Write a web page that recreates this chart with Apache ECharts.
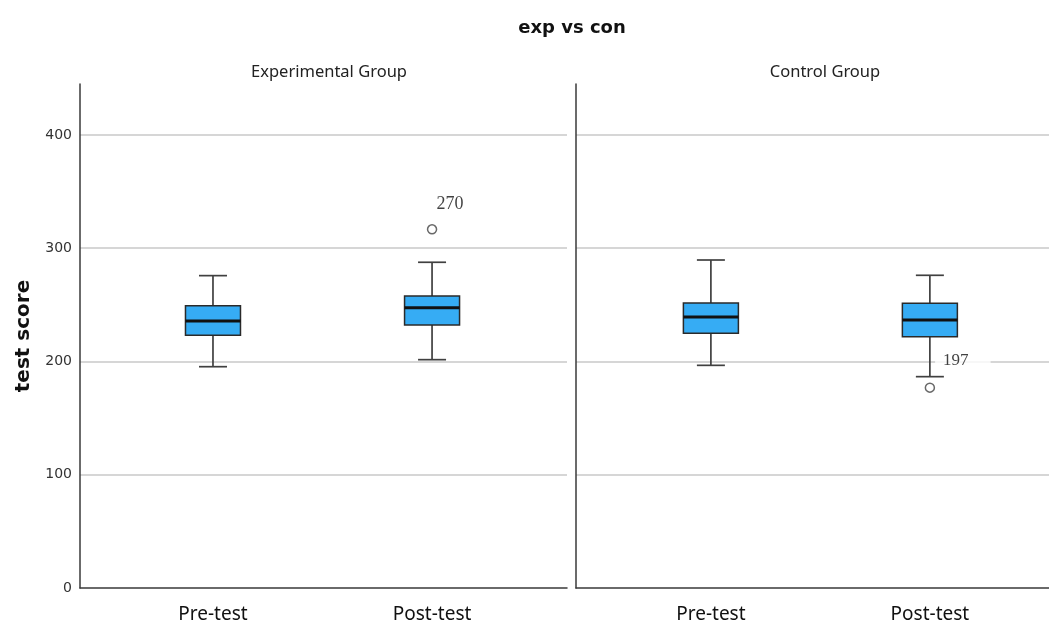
<!DOCTYPE html>
<html>
<head>
<meta charset="utf-8">
<title>exp vs con</title>
<script src="https://cdn.jsdelivr.net/npm/echarts@6/dist/echarts.min.js"></script>
<style>
  html, body { margin: 0; padding: 0; background: #ffffff; }
  #chart { width: 1049px; height: 625px; }
</style>
</head>
<body>
<div id="chart"></div>
<script>
// Test phases shown on each panel's x axis
const categories = ['Pre-test', 'Post-test'];
const panelTitles = ['Experimental Group', 'Control Group'];

// Five-number summaries per phase: [min, Q1, median, Q3, max]
const expStats = [
  [195.4, 223.1, 235.8, 249.3, 275.8],
  [201.6, 232.2, 247.5, 257.8, 287.6]
];
const conStats = [
  [196.6, 224.9, 239.3, 251.7, 289.6],
  [186.6, 221.9, 236.6, 251.4, 276.1]
];

// Outliers: phase index, score, case id
const expOutlierPhase = [1];
const expOutlierScore = [316.7];
const expOutlierCase = ['270'];
const conOutlierPhase = [1];
const conOutlierScore = [176.9];
const conOutlierCase = ['197'];

// Y axis ticks
const yTicks = [0, 100, 200, 300, 400];

const BOX_FILL = '#36acf4';
const BOX_W = 55;
const CAP_W = 28;
const AXIS_COLOR = '#3a3a3a';
const GRID_COLOR = '#c9c9c9';

function boxRows(stats) {
  return stats.map((s, i) => [i].concat(s));
}

function outlierItems(phase, score, ids) {
  return phase.map((p, i) => ({ value: [p, score[i]], name: ids[i] }));
}

function renderBox(params, api) {
  const x = api.value(0);
  const lo = api.coord([x, api.value(1)]);
  const q1 = api.coord([x, api.value(2)]);
  const md = api.coord([x, api.value(3)]);
  const q3 = api.coord([x, api.value(4)]);
  const hi = api.coord([x, api.value(5)]);
  const cx = lo[0];
  const hw = BOX_W / 2, cw = CAP_W / 2;
  const whisker = { stroke: '#404040', lineWidth: 1.7 };
  return {
    type: 'group',
    children: [
      { type: 'line', shape: { x1: cx, y1: hi[1], x2: cx, y2: q3[1] }, style: whisker },
      { type: 'line', shape: { x1: cx, y1: q1[1], x2: cx, y2: lo[1] }, style: whisker },
      { type: 'line', shape: { x1: cx - cw, y1: hi[1], x2: cx + cw, y2: hi[1] }, style: whisker },
      { type: 'line', shape: { x1: cx - cw, y1: lo[1], x2: cx + cw, y2: lo[1] }, style: whisker },
      {
        type: 'rect',
        shape: { x: cx - hw, y: q3[1], width: BOX_W, height: q1[1] - q3[1] },
        style: { fill: BOX_FILL, stroke: '#2a2a2a', lineWidth: 1.5 }
      },
      {
        type: 'line',
        shape: { x1: cx - hw, y1: md[1], x2: cx + hw, y2: md[1] },
        style: { stroke: '#111111', lineWidth: 3 }
      }
    ]
  };
}

function xAxisFor(gridIndex, min, max) {
  return {
    type: 'value',
    gridIndex: gridIndex,
    min: min,
    max: max,
    splitLine: { show: false },
    axisTick: { show: false },
    axisLine: { show: true, onZero: false, lineStyle: { color: AXIS_COLOR, width: 1.5 } },
    axisLabel: {
      customValues: [0, 1],
      formatter: v => categories[Math.round(v)],
      color: '#111',
      fontFamily: 'Noto Sans',
      fontSize: 19,
      margin: 17
    }
  };
}

function yAxisFor(gridIndex, showLabels) {
  return {
    type: 'value',
    gridIndex: gridIndex,
    min: 0,
    max: 445,
    interval: 100,
    name: showLabels ? 'test score' : '',
    nameLocation: 'middle',
    nameGap: 46,
    nameTextStyle: { fontFamily: 'DejaVu Sans', fontWeight: 'bold', fontSize: 20, color: '#111' },
    axisLine: { show: true, onZero: false, lineStyle: { color: AXIS_COLOR, width: 1.5 } },
    axisTick: { show: false },
    axisLabel: {
      show: showLabels,
      showMaxLabel: false,
      color: '#333',
      fontFamily: 'DejaVu Sans',
      fontSize: 14,
      margin: 8
    },
    splitLine: {
      show: true,
      showMinLine: false,
      showMaxLine: false,
      lineStyle: { color: GRID_COLOR, width: 1.5 }
    }
  };
}

const outlierStyle = {
  color: '#ffffff',
  borderColor: '#444',
  borderWidth: 1.5
};

const option = {
  animation: false,
  backgroundColor: '#ffffff',
  title: [
    {
      text: 'exp vs con',
      left: 567,
      top: 14,
      textAlign: 'center',
      textStyle: { fontFamily: 'DejaVu Sans', fontWeight: 'bold', fontSize: 18, color: '#111' }
    },
    {
      text: panelTitles[0],
      left: 324,
      top: 59,
      textAlign: 'center',
      textStyle: { fontFamily: 'Noto Sans', fontWeight: 'normal', fontSize: 16.5, color: '#222' }
    },
    {
      text: panelTitles[1],
      left: 820,
      top: 59,
      textAlign: 'center',
      textStyle: { fontFamily: 'Noto Sans', fontWeight: 'normal', fontSize: 16.5, color: '#222' }
    }
  ],
  grid: [
    { left: 80, top: 84, width: 487, height: 504 },
    { left: 576, top: 84, width: 473, height: 504 }
  ],
  xAxis: [xAxisFor(0, -0.607, 1.616), xAxisFor(1, -0.616, 1.544)],
  yAxis: [yAxisFor(0, true), yAxisFor(1, false)],
  series: [
    {
      type: 'custom',
      xAxisIndex: 0,
      yAxisIndex: 0,
      renderItem: renderBox,
      encode: { x: 0, y: [1, 2, 3, 4, 5] },
      data: boxRows(expStats),
      z: 3
    },
    {
      type: 'custom',
      xAxisIndex: 1,
      yAxisIndex: 1,
      renderItem: renderBox,
      encode: { x: 0, y: [1, 2, 3, 4, 5] },
      data: boxRows(conStats),
      z: 3
    },
    {
      type: 'scatter',
      xAxisIndex: 0,
      yAxisIndex: 0,
      symbol: 'circle',
      symbolSize: 9,
      itemStyle: outlierStyle,
      data: outlierItems(expOutlierPhase, expOutlierScore, expOutlierCase),
      label: {
        show: true,
        position: 'top',
        offset: [18, -6],
        formatter: '{b}',
        fontFamily: 'Liberation Serif',
        fontSize: 18,
        color: '#111'
      },
      z: 4
    },
    {
      type: 'scatter',
      xAxisIndex: 1,
      yAxisIndex: 1,
      symbol: 'circle',
      symbolSize: 9,
      itemStyle: outlierStyle,
      data: outlierItems(conOutlierPhase, conOutlierScore, conOutlierCase),
      label: {
        show: true,
        position: 'top',
        offset: [33, -7],
        formatter: '{b}',
        fontFamily: 'Liberation Serif',
        fontSize: 17,
        color: '#111',
        backgroundColor: '#ffffff',
        padding: [1, 22, 1, 8]
      },
      z: 2
    }
  ]
};

const chart = echarts.init(document.getElementById('chart'), null, { renderer: 'canvas' });
chart.setOption(option);
</script>
</body>
</html>
